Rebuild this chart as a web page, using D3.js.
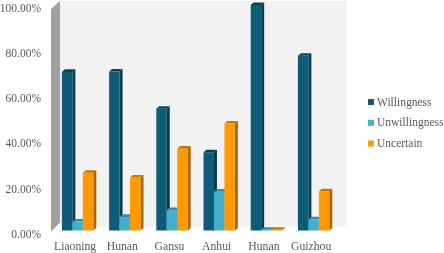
<!DOCTYPE html>
<html>
<head>
<meta charset="utf-8">
<script src="https://cdn.jsdelivr.net/npm/d3@7"></script>
<style>
  html, body { margin: 0; padding: 0; background: #fff; }
  svg { display: block; filter: blur(0.35px); }
  text { font-family: "Liberation Serif", serif; fill: #595959; }
</style>
</head>
<body>
<svg id="canvas"></svg>
<script>
const provinces = ['Liaoning', 'Hunan', 'Gansu', 'Anhui', 'Hunan', 'Guizhou']
const seriesNames = ['Willingness', 'Unwillingness', 'Uncertain']
const willingness = [70.3, 70.5, 54, 34.7, 100, 77.5]
const unwillingness = [4, 6, 9, 17.2, 0.3, 5]
const uncertain = [25.6, 23.5, 36.3, 47.4, 0.3, 17.4]
const yTicks = [0, 20, 40, 60, 80, 100]

const width = 444
const height = 253
const depthX = 3
const depthY = 2.6

const frontColors = ['#0f5c78', '#45afd0', '#ff9900']
const sideColors = ['#0a3c50', '#2f7f9a', '#a86500']
const topColors = ['#0b4258', '#358ba8', '#c47800']

let svg = d3.select('#canvas')
    .attr('width', width)
    .attr('height', height)

let xScale = d3.scaleBand()
    .domain(d3.range(provinces.length))
    .range([54, 337.2])

// bars take 2/3 of the band
let barScale = d3.scaleBand()
    .domain(d3.range(seriesNames.length))
    .range([7.9, xScale.bandwidth() - 7.9])

let yScale = d3.scaleLinear()
    .domain([0, 100])
    .range([230.5, 5])

let drawWalls = () => {
    let wallFront = 51
    let wallBack = 60
    let top = yScale(100)
    let bottom = yScale(0)

    // back wall
    svg.append('rect')
        .attr('x', wallBack)
        .attr('y', top - 4)
        .attr('width', 347 - wallBack)
        .attr('height', bottom - top)
        .attr('fill', '#f2f2f2')

    // side wall
    svg.append('polygon')
        .attr('points', [
            [wallFront, top + 4],
            [wallBack, top - 4],
            [wallBack, bottom - 8],
            [wallFront, bottom + 1]
        ].join(' '))
        .attr('fill', '#a0a0a0')
}

let drawBars = () => {
    let allSeries = [willingness, unwillingness, uncertain]

    allSeries.forEach((values, s) => {
        let group = svg.append('g').attr('class', 'series')
        values.forEach((value, i) => {
            let x0 = xScale(i) + barScale(s)
            let x1 = x0 + barScale.bandwidth()
            let yTop = yScale(value)
            let yBase = yScale(0)

            group.append('polygon')
                .attr('points', [
                    [x1, yTop],
                    [x1 + depthX, yTop - depthY],
                    [x1 + depthX, yBase - depthY],
                    [x1, yBase]
                ].join(' '))
                .attr('fill', sideColors[s])

            group.append('polygon')
                .attr('points', [
                    [x0, yTop],
                    [x0 + depthX, yTop - depthY],
                    [x1 + depthX, yTop - depthY],
                    [x1, yTop]
                ].join(' '))
                .attr('fill', topColors[s])

            group.append('rect')
                .attr('x', x0)
                .attr('y', yTop)
                .attr('width', barScale.bandwidth())
                .attr('height', yBase - yTop)
                .attr('fill', frontColors[s])
        })
    })
}

let generateAxes = () => {
    let yAxis = d3.axisLeft(yScale)
        .tickValues(yTicks)
        .tickSize(0)
        .tickPadding(0)
        .tickFormat((d) => d3.format('.2f')(d) + '%')

    let yG = svg.append('g')
        .attr('id', 'y-axis')
        .attr('transform', 'translate(41, 3)')
        .call(yAxis)
    yG.select('.domain').remove()
    yG.selectAll('text')
        .style('font-family', '"Liberation Serif", serif')
        .style('font-size', '11.5px')
        .attr('fill', '#595959')

    let xAxis = d3.axisBottom(xScale)
        .tickSize(0)
        .tickPadding(0)
        .tickFormat((d) => provinces[d])

    let xG = svg.append('g')
        .attr('id', 'x-axis')
        .attr('transform', 'translate(-2.5, 241.5)')
        .call(xAxis)
    xG.select('.domain').remove()
    xG.selectAll('text')
        .style('font-family', '"Liberation Serif", serif')
        .style('font-size', '11.7px')
        .attr('fill', '#595959')
}

let drawLegend = () => {
    let legendY = d3.scalePoint()
        .domain(seriesNames)
        .range([102, 143.5])

    seriesNames.forEach((name, s) => {
        svg.append('rect')
            .attr('x', 368)
            .attr('y', legendY(name) - 3)
            .attr('width', 6)
            .attr('height', 6)
            .attr('fill', frontColors[s])

        svg.append('text')
            .attr('x', 377)
            .attr('y', legendY(name) + 3.5)
            .style('font-size', '11.5px')
            .text(name)
    })
}

drawWalls()
drawBars()
generateAxes()
drawLegend()
</script>
</body>
</html>
